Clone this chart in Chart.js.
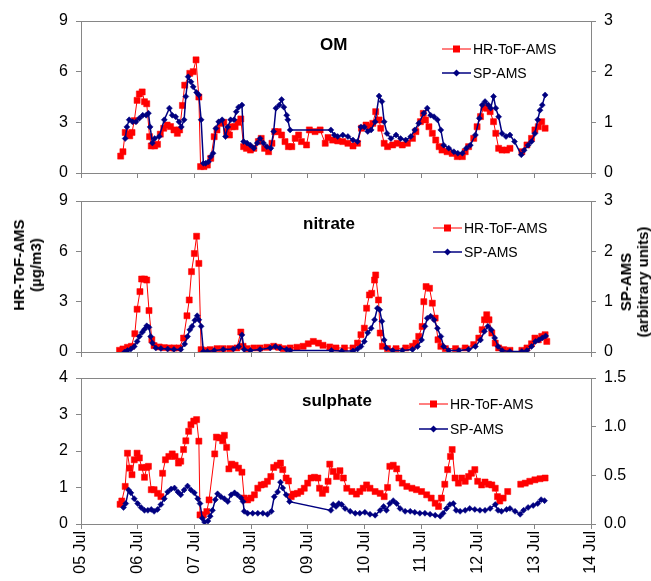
<!DOCTYPE html>
<html lang="en">
<head>
<meta charset="UTF-8">
<title>OM, nitrate and sulphate - HR-ToF-AMS vs SP-AMS</title>
<script src="https://cdn.jsdelivr.net/npm/chart.js@4.4.1/dist/chart.umd.min.js"></script>
<style>
    body { margin: 0; background: #fff; }
    #wrap { position: relative; width: 651px; height: 581px; font-family: 'Liberation Sans', Arial, sans-serif; }
    #wrap canvas { position: absolute; left: 0; }
    .ytitle {
        position: absolute; font-weight: bold; font-size: 15px; line-height: 17px;
        white-space: nowrap; text-align: center; color: #000;
        transform: translate(-50%, -50%) rotate(-90deg);
    }
</style>
</head>
<body>
<div id="wrap">
    <canvas id="omChart" width="651" height="180" style="top:0"></canvas>
    <canvas id="nitChart" width="651" height="180" style="top:180px"></canvas>
    <canvas id="sulChart" width="651" height="221" style="top:360px"></canvas>
    <div class="ytitle" style="left:27px; top:265px;">HR-ToF-AMS<br>(µg/m3)</div>
    <div class="ytitle" style="left:634px; top:282px;">SP-AMS<br>(arbitrary units)</div>
</div>

<script>
// x = day of July, y = concentration. null = no data (gap)

// OM
const omHR = [[5.70,1.0],[5.74,1.26],[5.78,2.4],[5.82,2.3],[5.86,2.2],[5.90,2.4],[5.94,3.1],[5.99,4.3],[6.03,4.68],[6.08,4.8],[6.12,4.22],[6.16,4.1],[6.21,2.15],[6.24,1.6],[6.30,1.6],[6.35,1.7],[6.40,2.3],[6.46,2.65],[6.52,2.84],[6.58,2.75],[6.64,2.55],[6.70,2.35],[6.74,2.55],[6.79,4.0],[6.83,5.2],[6.92,5.9],[6.98,6.0],[7.03,6.7],[7.08,4.5],[7.11,0.38],[7.17,0.38],[7.23,0.47],[7.29,0.87],[7.35,2.15],[7.40,2.55],[7.46,2.94],[7.52,3.0],[7.57,2.45],[7.62,2.25],[7.67,2.74],[7.72,2.74],[7.77,3.0],[7.82,3.2],[7.87,1.56],[7.92,1.46],[7.99,1.36],[8.05,1.46],[8.13,1.86],[8.18,2.05],[8.24,1.46],[8.31,1.26],[8.37,1.76],[8.42,2.45],[8.48,2.45],[8.54,2.25],[8.60,1.86],[8.66,1.56],[8.72,1.56],[8.78,2.05],[8.84,2.25],[8.89,1.86],[8.98,1.66],[9.03,2.55],[9.13,2.45],[9.22,2.55],[9.31,1.76],[9.36,2.1],[9.44,1.95],[9.53,1.9],[9.62,1.86],[9.71,1.76],[9.80,1.6],[9.88,1.76],[9.95,2.65],[10.03,2.84],[10.09,2.74],[10.15,2.94],[10.20,3.63],[10.26,3.14],[10.29,2.65],[10.35,1.76],[10.41,1.56],[10.50,1.66],[10.58,1.76],[10.67,1.66],[10.76,1.76],[10.85,2.05],[10.91,2.45],[10.99,3.04],[11.04,3.53],[11.08,3.14],[11.14,2.74],[11.20,2.35],[11.26,1.95],[11.32,1.56],[11.37,1.36],[11.46,1.26],[11.55,1.16],[11.64,0.97],[11.73,0.97],[11.78,1.26],[11.84,1.56],[11.93,2.05],[11.99,2.74],[12.05,3.34],[12.11,3.89],[12.16,3.83],[12.22,3.63],[12.28,3.04],[12.32,2.35],[12.37,1.46],[12.43,1.36],[12.51,1.36],[12.57,1.46],[12.68,null],[12.78,1.26],[12.87,1.66],[12.95,2.05],[13.01,2.55],[13.07,2.74],[13.13,3.04],[13.19,2.65]];
const omSP = [[5.78,0.68],[5.81,0.91],[5.85,1.05],[5.91,1.01],[5.97,1.01],[6.03,1.08],[6.09,1.14],[6.15,1.14],[6.19,1.18],[6.22,0.91],[6.26,0.59],[6.30,0.68],[6.38,0.72],[6.47,1.05],[6.56,1.28],[6.61,1.14],[6.67,1.11],[6.73,1.01],[6.77,0.91],[6.82,1.05],[6.85,1.51],[6.89,1.90],[6.94,1.80],[6.98,1.70],[7.04,1.59],[7.08,1.54],[7.12,1.05],[7.16,0.19],[7.20,0.19],[7.25,0.22],[7.29,0.32],[7.33,0.39],[7.38,0.88],[7.43,1.01],[7.49,1.05],[7.55,0.72],[7.59,0.91],[7.64,1.05],[7.70,1.05],[7.74,1.21],[7.78,1.30],[7.84,1.34],[7.87,0.62],[7.93,0.59],[7.99,0.55],[8.05,0.49],[8.11,0.59],[8.16,0.68],[8.22,0.59],[8.28,0.52],[8.35,0.49],[8.40,0.82],[8.44,1.28],[8.50,1.34],[8.54,1.45],[8.58,1.30],[8.63,1.14],[8.65,1.05],[8.69,0.85],[9.41,0.85],[9.47,0.75],[9.53,0.72],[9.62,0.75],[9.71,0.72],[9.80,0.65],[9.88,0.62],[9.94,0.91],[10.0,0.91],[10.06,0.82],[10.12,0.85],[10.19,1.01],[10.26,1.52],[10.31,1.41],[10.35,1.01],[10.40,0.78],[10.47,0.68],[10.56,0.75],[10.64,0.68],[10.73,0.65],[10.82,0.72],[10.89,0.85],[10.96,0.98],[11.05,1.18],[11.11,1.28],[11.17,1.14],[11.23,1.11],[11.29,1.05],[11.35,0.85],[11.40,0.55],[11.49,0.49],[11.58,0.42],[11.65,0.39],[11.73,0.39],[11.80,0.49],[11.87,0.55],[11.96,0.75],[12.03,1.08],[12.08,1.34],[12.13,1.41],[12.19,1.34],[12.23,1.28],[12.28,1.51],[12.32,1.28],[12.37,1.11],[12.43,0.78],[12.50,0.72],[12.57,0.75],[12.65,0.62],[12.77,0.36],[12.82,0.45],[12.89,0.55],[12.95,0.62],[13.01,0.78],[13.06,1.05],[13.10,1.24],[13.14,1.34],[13.19,1.54]];

// nitrate
const nitHR = [[5.68,0.1],[5.74,0.18],[5.82,0.28],[5.89,0.34],[5.95,1.09],[5.99,2.55],[6.04,3.6],[6.07,4.35],[6.12,4.35],[6.16,4.29],[6.20,2.47],[6.25,0.73],[6.29,0.38],[6.38,0.3],[6.47,0.26],[6.56,0.24],[6.64,0.24],[6.73,0.24],[6.81,0.83],[6.87,2.16],[6.91,3.1],[6.95,4.79],[7.0,5.87],[7.04,6.9],[7.08,5.28],[7.12,0.14],[7.19,0.1],[7.28,0.14],[7.40,0.2],[7.51,0.2],[7.63,0.2],[7.75,0.24],[7.82,1.19],[7.86,0.34],[7.93,0.2],[8.05,0.24],[8.16,0.24],[8.28,0.28],[8.40,0.34],[8.49,0.28],[8.57,0.2],[8.69,0.24],[8.81,0.28],[8.92,0.34],[9.01,0.49],[9.10,0.63],[9.19,0.53],[9.27,0.4],[9.39,0.3],[9.50,0.24],[9.65,0.24],[9.80,0.24],[9.88,0.53],[9.94,1.03],[10.0,1.42],[10.04,2.61],[10.09,3.4],[10.13,3.5],[10.18,4.29],[10.20,4.59],[10.25,3.1],[10.28,1.13],[10.32,0.34],[10.41,0.2],[10.56,0.2],[10.73,0.24],[10.85,0.34],[10.91,0.53],[10.96,0.93],[11.02,1.52],[11.05,3.0],[11.09,3.9],[11.15,3.8],[11.20,2.91],[11.25,2.02],[11.30,0.73],[11.35,0.34],[11.43,0.2],[11.61,0.2],[11.78,0.24],[11.93,0.44],[12.02,0.83],[12.08,1.33],[12.12,1.92],[12.16,2.22],[12.20,1.92],[12.25,1.13],[12.31,0.53],[12.37,0.24],[12.46,0.14],[12.57,0.1],[12.68,null],[12.78,0.1],[12.87,0.24],[12.95,0.49],[13.01,0.83],[13.07,0.73],[13.13,0.93],[13.19,1.03],[13.22,0.63]];
const nitSP = [[5.77,0.0],[5.82,0.03],[5.88,0.06],[5.94,0.11],[5.99,0.21],[6.03,0.31],[6.08,0.39],[6.12,0.45],[6.16,0.52],[6.20,0.49],[6.23,0.31],[6.26,0.18],[6.32,0.08],[6.41,0.07],[6.53,0.06],[6.64,0.05],[6.76,0.05],[6.83,0.16],[6.88,0.31],[6.92,0.44],[6.96,0.51],[7.01,0.63],[7.05,0.72],[7.08,0.64],[7.12,0.51],[7.16,0.01],[7.23,0.01],[7.35,0.03],[7.51,0.05],[7.69,0.06],[7.78,0.11],[7.84,0.34],[7.88,0.05],[7.99,0.03],[8.16,0.05],[8.34,0.08],[8.43,0.11],[8.51,0.08],[8.63,0.05],[8.69,0.03],[9.42,0.03],[9.60,0.02],[9.80,0.02],[9.88,0.06],[9.94,0.11],[10.0,0.21],[10.06,0.38],[10.12,0.47],[10.18,0.64],[10.23,0.87],[10.27,0.84],[10.31,0.61],[10.35,0.24],[10.39,0.08],[10.50,0.03],[10.67,0.03],[10.85,0.05],[10.94,0.11],[11.01,0.24],[11.07,0.51],[11.11,0.67],[11.17,0.71],[11.23,0.64],[11.29,0.47],[11.35,0.31],[11.40,0.11],[11.49,0.03],[11.67,0.03],[11.84,0.05],[11.96,0.11],[12.05,0.24],[12.12,0.41],[12.18,0.51],[12.24,0.44],[12.30,0.28],[12.36,0.11],[12.43,0.03],[12.57,0.01],[12.78,0.01],[12.87,0.03],[12.95,0.11],[13.02,0.21],[13.08,0.24],[13.14,0.28],[13.20,0.32]];

// sulphate
const sulHR = [[5.69,0.54],[5.72,0.63],[5.78,1.03],[5.82,1.94],[5.86,1.53],[5.90,1.35],[5.94,1.76],[5.99,1.94],[6.03,1.81],[6.07,1.55],[6.12,1.28],[6.16,1.55],[6.19,1.58],[6.24,0.94],[6.29,0.94],[6.35,0.84],[6.41,0.75],[6.44,1.39],[6.49,1.76],[6.55,1.85],[6.61,1.92],[6.66,1.85],[6.72,1.67],[6.76,1.72],[6.81,2.04],[6.85,2.28],[6.90,2.54],[6.94,2.72],[6.99,2.82],[7.04,2.86],[7.08,2.27],[7.10,0.25],[7.16,0.25],[7.22,0.34],[7.26,0.66],[7.36,1.92],[7.39,2.38],[7.45,2.36],[7.50,2.28],[7.53,2.43],[7.57,2.10],[7.61,1.51],[7.66,1.64],[7.72,1.61],[7.78,1.53],[7.84,1.42],[7.88,0.71],[7.94,0.66],[8.0,0.71],[8.06,0.80],[8.12,0.98],[8.18,1.07],[8.24,1.09],[8.29,1.17],[8.35,1.30],[8.40,1.55],[8.46,1.61],[8.52,1.67],[8.56,1.49],[8.62,1.26],[8.66,1.18],[8.71,0.75],[8.76,0.82],[8.82,0.84],[8.88,0.89],[8.94,0.98],[9.0,1.12],[9.06,1.26],[9.12,1.28],[9.18,1.26],[9.21,0.98],[9.26,0.84],[9.32,0.94],[9.36,1.17],[9.39,1.64],[9.45,1.44],[9.51,1.30],[9.57,1.46],[9.63,1.26],[9.69,0.98],[9.78,0.89],[9.86,0.82],[9.92,0.89],[9.98,0.98],[10.04,1.07],[10.10,0.98],[10.19,0.89],[10.28,0.84],[10.35,0.75],[10.41,1.0],[10.45,1.58],[10.51,1.61],[10.57,1.51],[10.61,1.26],[10.67,1.12],[10.75,1.03],[10.84,0.98],[10.92,0.94],[11.01,0.89],[11.10,0.80],[11.18,0.71],[11.25,0.57],[11.31,0.48],[11.36,0.71],[11.42,1.09],[11.47,1.49],[11.52,1.85],[11.55,2.04],[11.60,1.26],[11.66,1.12],[11.72,1.26],[11.78,1.17],[11.84,1.30],[11.89,1.39],[11.95,1.49],[12.0,1.17],[12.07,1.07],[12.13,1.15],[12.19,1.09],[12.25,1.07],[12.31,0.98],[12.35,0.75],[12.39,0.63],[12.45,0.71],[12.53,0.89],[12.65,null],[12.76,1.09],[12.84,1.12],[12.92,1.17],[13.01,1.21],[13.10,1.24],[13.19,1.26]];
const sulSP = [[5.75,0.17],[5.79,0.21],[5.84,0.35],[5.88,0.32],[5.94,0.26],[6.0,0.21],[6.06,0.17],[6.12,0.14],[6.18,0.14],[6.24,0.15],[6.29,0.13],[6.35,0.15],[6.41,0.20],[6.47,0.26],[6.53,0.33],[6.59,0.36],[6.65,0.37],[6.71,0.33],[6.76,0.30],[6.82,0.35],[6.88,0.39],[6.94,0.35],[7.0,0.32],[7.06,0.26],[7.10,0.21],[7.14,0.06],[7.18,0.02],[7.24,0.03],[7.28,0.08],[7.32,0.14],[7.37,0.25],[7.41,0.31],[7.47,0.28],[7.53,0.26],[7.59,0.23],[7.65,0.30],[7.71,0.32],[7.76,0.30],[7.82,0.27],[7.86,0.23],[7.88,0.13],[7.94,0.11],[8.03,0.11],[8.12,0.11],[8.21,0.11],[8.29,0.10],[8.36,0.13],[8.41,0.28],[8.47,0.33],[8.52,0.43],[8.56,0.37],[8.62,0.30],[8.68,0.23],[9.41,0.14],[9.45,0.20],[9.50,0.18],[9.55,0.21],[9.60,0.20],[9.66,0.16],[9.75,0.13],[9.84,0.11],[9.92,0.11],[10.01,0.12],[10.10,0.10],[10.19,0.09],[10.28,0.14],[10.34,0.18],[10.39,0.14],[10.45,0.21],[10.51,0.24],[10.57,0.21],[10.63,0.16],[10.72,0.13],[10.81,0.13],[10.89,0.12],[10.98,0.11],[11.07,0.11],[11.16,0.10],[11.25,0.09],[11.34,0.08],[11.39,0.11],[11.45,0.16],[11.51,0.20],[11.57,0.21],[11.62,0.14],[11.69,0.13],[11.78,0.14],[11.86,0.16],[11.95,0.15],[12.04,0.14],[12.13,0.14],[12.22,0.16],[12.31,0.20],[12.36,0.14],[12.42,0.13],[12.51,0.15],[12.57,0.16],[12.66,0.13],[12.75,0.10],[12.81,0.14],[12.89,0.17],[12.98,0.19],[13.06,0.21],[13.12,0.25],[13.18,0.24]];

// axis tick values
const dayTicks = [5, 6, 7, 8, 9, 10, 11, 12, 13, 14];
const omLeft = [0, 3, 6, 9],  omRight = [0, 1, 2, 3];
const nitLeft = [0, 3, 6, 9], nitRight = [0, 1, 2, 3];
const sulLeft = [0, 1, 2, 3, 4], sulRight = [0, 0.5, 1.0, 1.5];

const RED = '#ff0000';
const NAVY = '#000080';
const AXIS = '#868686';
const FONT = "'Liberation Sans', Arial, sans-serif";

Chart.defaults.font.family = FONT;
Chart.defaults.font.size = 16;
Chart.defaults.color = '#000';

function toXY(arr) {
    return arr.map(p => ({ x: p[0], y: p[1] }));
}

// frame around plot, panel title and the small legend box
const panelDeco = {
    id: 'panelDeco',
    afterDraw(chart, args, o) {
        const ctx = chart.ctx, a = chart.chartArea;
        ctx.save();
        ctx.strokeStyle = AXIS;
        ctx.lineWidth = 1;
        ctx.strokeRect(Math.round(a.left) + 0.5, Math.round(a.top) + 0.5,
            Math.round(a.right - a.left), Math.round(a.bottom - a.top));

        ctx.fillStyle = '#000';
        ctx.font = 'bold 17px ' + FONT;
        ctx.textAlign = 'left';
        ctx.textBaseline = 'middle';
        ctx.fillText(o.title, o.tx, o.ty);

        const rows = [
            { label: 'HR-ToF-AMS', color: RED, shape: 'rect', w: 1, y: o.ly },
            { label: 'SP-AMS', color: NAVY, shape: 'diamond', w: 1.5, y: o.ly + o.gap }
        ];
        ctx.font = '14px ' + FONT;
        rows.forEach(r => {
            const cx = o.lx + 14.5;
            ctx.strokeStyle = r.color;
            ctx.fillStyle = r.color;
            ctx.lineWidth = r.w;
            ctx.beginPath();
            ctx.moveTo(o.lx, r.y);
            ctx.lineTo(o.lx + 29, r.y);
            ctx.stroke();
            if (r.shape === 'rect') {
                ctx.fillRect(cx - 3.5, r.y - 3.5, 7, 7);
            } else {
                ctx.beginPath();
                ctx.moveTo(cx - 3.5, r.y);
                ctx.lineTo(cx, r.y - 3.5);
                ctx.lineTo(cx + 3.5, r.y);
                ctx.lineTo(cx, r.y + 3.5);
                ctx.closePath();
                ctx.fill();
            }
            ctx.fillStyle = '#000';
            ctx.fillText(r.label, o.lx + 31, r.y + 1);
        });
        ctx.restore();
    }
};

function tickGrid() {
    return { drawOnChartArea: false, drawTicks: true, tickLength: 5, color: AXIS, tickColor: AXIS };
}

// fixed axis sizes, and no extra room for labels sticking out past the plot
function fixSize(w, h) {
    return s => {
        if (w !== null) s.width = w;
        if (h !== null) s.height = h;
        s.paddingTop = 0;
        s.paddingBottom = 0;
        s.paddingLeft = 0;
        s.paddingRight = 0;
    };
}

function makePanel(id, p) {
    return new Chart(document.getElementById(id), {
        type: 'line',
        data: {
            datasets: [{
                label: 'SP-AMS',
                data: toXY(p.sp),
                yAxisID: 'yR',
                borderColor: NAVY,
                backgroundColor: NAVY,
                borderWidth: 1.5,
                pointStyle: 'rectRot',
                pointRadius: 3,
                pointBorderWidth: 0.5,
                tension: 0
            }, {
                label: 'HR-ToF-AMS',
                data: toXY(p.hr),
                yAxisID: 'yL',
                borderColor: RED,
                backgroundColor: RED,
                borderWidth: 1,
                pointStyle: 'rect',
                pointRadius: 4.3,
                pointBorderWidth: 0.5,
                spanGaps: false,
                tension: 0
            }]
        },
        options: {
            responsive: false,
            animation: false,
            events: [],
            layout: { padding: { top: p.top, left: 0, right: 0, bottom: 0 } },
            plugins: {
                legend: { display: false },
                tooltip: { enabled: false },
                panelDeco: p.deco
            },
            scales: {
                x: {
                    type: 'linear',
                    min: 5,
                    max: 14,
                    afterBuildTicks: s => { s.ticks = dayTicks.map(v => ({ value: v })); },
                    afterFit: fixSize(null, p.xh),
                    ticks: {
                        display: p.xLabels,
                        autoSkip: false,
                        minRotation: 90,
                        maxRotation: 90,
                        padding: 2,
                        callback: v => (v < 10 ? '0' : '') + v + ' Jul'
                    },
                    grid: tickGrid(),
                    border: { display: false }
                },
                yL: {
                    position: 'left',
                    min: p.left[0],
                    max: p.left[p.left.length - 1],
                    afterBuildTicks: s => { s.ticks = p.left.map(v => ({ value: v })); },
                    afterFit: fixSize(81, null),
                    ticks: { padding: 8 },
                    grid: tickGrid(),
                    border: { display: false }
                },
                yR: {
                    position: 'right',
                    min: p.right[0],
                    max: p.right[p.right.length - 1],
                    afterBuildTicks: s => { s.ticks = p.right.map(v => ({ value: v })); },
                    afterFit: fixSize(60, null),
                    ticks: { padding: 8, callback: p.rightFmt || (v => v) },
                    grid: tickGrid(),
                    border: { display: false }
                }
            }
        },
        plugins: [panelDeco]
    });
}

makePanel('omChart', {
    hr: omHR, sp: omSP, left: omLeft, right: omRight,
    top: 21, xh: 7, xLabels: false,
    deco: { title: 'OM', tx: 320, ty: 45, lx: 442, ly: 49, gap: 24 }
});

makePanel('nitChart', {
    hr: nitHR, sp: nitSP, left: nitLeft, right: nitRight,
    top: 21, xh: 8, xLabels: false,
    deco: { title: 'nitrate', tx: 303, ty: 44, lx: 433, ly: 48, gap: 24 }
});

makePanel('sulChart', {
    hr: sulHR, sp: sulSP, left: sulLeft, right: sulRight,
    top: 18, xh: 57, xLabels: true,
    rightFmt: v => v.toFixed(1),
    deco: { title: 'sulphate', tx: 302, ty: 41, lx: 419, ly: 44, gap: 25 }
});
</script>
</body>
</html>
